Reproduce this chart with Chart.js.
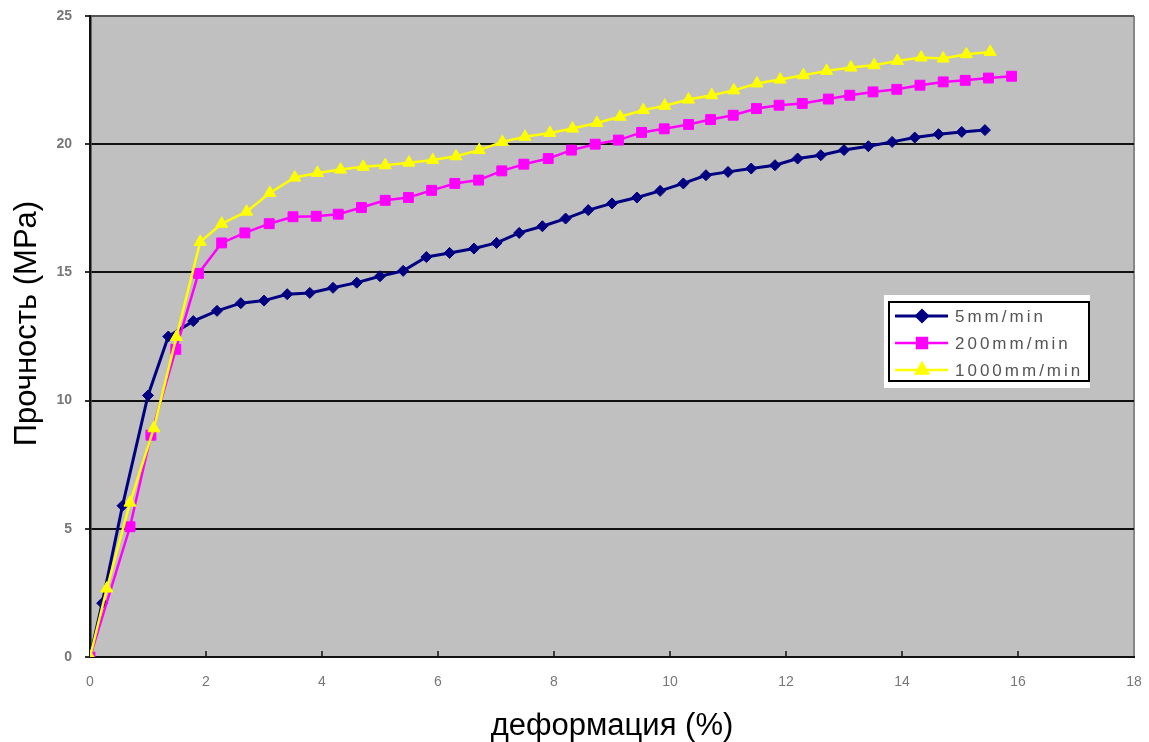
<!DOCTYPE html>
<html>
<head>
<meta charset="utf-8">
<script src="https://cdn.jsdelivr.net/npm/chart.js@4"></script>
<style>
  body { margin: 0; background: #fff; }
  #wrap { width: 1149px; height: 742px; position: relative; }
</style>
</head>
<body>
<div id="wrap"><canvas id="myChart"></canvas></div>
<script>
// deformation (%) / strength (MPa)
var x5 = [0, 0.21, 0.56, 1.0, 1.35, 1.78, 2.19, 2.6, 3.0, 3.4, 3.79, 4.19, 4.6, 5.0, 5.4, 5.8, 6.2, 6.62, 7.01, 7.4,
          7.8, 8.2, 8.59, 9.0, 9.43, 9.83, 10.23, 10.62, 11.0, 11.4, 11.81, 12.2, 12.6, 13.0, 13.42, 13.83, 14.22, 14.63, 15.03, 15.43];
var y5 = [0, 2.1, 5.9, 10.2, 12.5, 13.1, 13.5, 13.8, 13.9, 14.15, 14.2, 14.4, 14.6, 14.85, 15.06, 15.6, 15.76, 15.93, 16.15, 16.54,
          16.8, 17.1, 17.43, 17.69, 17.92, 18.18, 18.47, 18.79, 18.92, 19.05, 19.18, 19.44, 19.57, 19.77, 19.92, 20.09, 20.26, 20.39, 20.48, 20.55];

var x200 = [0, 0.69, 1.05, 1.48, 1.87, 2.27, 2.67, 3.09, 3.5, 3.9, 4.28, 4.68, 5.09, 5.49, 5.89, 6.29, 6.7, 7.1, 7.48, 7.9,
            8.3, 8.71, 9.11, 9.51, 9.9, 10.32, 10.7, 11.09, 11.49, 11.88, 12.28, 12.73, 13.1, 13.5, 13.91, 14.31, 14.71, 15.09, 15.49, 15.89];
var y200 = [0, 5.08, 8.65, 12.0, 14.96, 16.15, 16.54, 16.9, 17.17, 17.19, 17.27, 17.53, 17.81, 17.92, 18.2, 18.47, 18.6, 18.96, 19.22, 19.44,
            19.77, 20.0, 20.16, 20.46, 20.6, 20.77, 20.96, 21.13, 21.39, 21.52, 21.59, 21.76, 21.91, 22.04, 22.14, 22.3, 22.43, 22.49, 22.58, 22.65];

var x1000 = [0, 0.29, 0.69, 1.1, 1.49, 1.9, 2.27, 2.7, 3.1, 3.53, 3.92, 4.32, 4.71, 5.09, 5.5, 5.91, 6.31, 6.71, 7.11, 7.5,
             7.93, 8.32, 8.74, 9.14, 9.54, 9.91, 10.32, 10.72, 11.1, 11.5, 11.9, 12.3, 12.7, 13.12, 13.52, 13.92, 14.33, 14.71, 15.11, 15.52];
var y1000 = [0, 2.67, 6.02, 8.92, 12.48, 16.19, 16.9, 17.37, 18.1, 18.7, 18.88, 19.01, 19.12, 19.18, 19.28, 19.38, 19.53, 19.77, 20.09, 20.29,
             20.44, 20.61, 20.83, 21.07, 21.33, 21.5, 21.74, 21.91, 22.1, 22.37, 22.52, 22.69, 22.86, 22.99, 23.08, 23.25, 23.38, 23.34, 23.51, 23.6];

var seriesNames = ["5mm/min", "200mm/min", "1000mm/min"];
var xTicks = [0, 2, 4, 6, 8, 10, 12, 14, 16, 18];
var yTicks = [0, 5, 10, 15, 20, 25];

function pts(xs, ys) {
  return xs.map(function (v, i) { return {x: v, y: ys[i]}; });
}

var styles = [
  {color: "#000080", pointStyle: "rectRot", radius: 5.5, width: 3},
  {color: "#ff00ff", pointStyle: "rect", radius: 7, width: 2.5},
  {color: "#ffff00", pointStyle: "triangle", radius: 7, width: 2.5}
];

var plotStuff = {
  id: "plotStuff",
  beforeDraw: function (chart) {
    var a = chart.chartArea, ctx = chart.ctx;
    ctx.save();
    ctx.fillStyle = "#c0c0c0";
    ctx.fillRect(a.left, a.top, a.right - a.left, a.bottom - a.top);
    ctx.restore();
  },
  afterDatasetsDraw: function (chart) {
    var ctx = chart.ctx, xs = chart.scales.x, a = chart.chartArea;
    // little inner tick marks on the bottom axis
    ctx.save();
    ctx.strokeStyle = "#111";
    ctx.lineWidth = 1.5;
    xTicks.forEach(function (t) {
      if (t === 0 || t === 18) return;
      var px = xs.getPixelForValue(t);
      ctx.beginPath();
      ctx.moveTo(px, a.bottom);
      ctx.lineTo(px, a.bottom - 6);
      ctx.stroke();
    });

    // legend box
    var L = 884, T = 295;
    ctx.fillStyle = "#fff";
    ctx.fillRect(L, T, 206, 93);
    ctx.strokeStyle = "#000";
    ctx.lineWidth = 2;
    ctx.strokeRect(L + 5, T + 7, 200, 79);
    ctx.font = "17px 'Liberation Sans', Arial, sans-serif";
    ctx.textBaseline = "middle";
    try { ctx.letterSpacing = "3px"; } catch (e) {}
    seriesNames.forEach(function (name, i) {
      var s = styles[i];
      var y = T + 21 + i * 27;
      ctx.strokeStyle = s.color;
      ctx.fillStyle = s.color;
      ctx.lineWidth = s.width;
      ctx.beginPath();
      ctx.moveTo(L + 11, y);
      ctx.lineTo(L + 64, y);
      ctx.stroke();
      Chart.helpers.drawPoint(ctx, {pointStyle: s.pointStyle, radius: s.radius, rotation: 0, borderWidth: 1}, L + 38, y);
      ctx.fillStyle = "#555";
      ctx.fillText(name, L + 71, y + 1);
    });
    ctx.restore();
  }
};

var datasets = [pts(x5, y5), pts(x200, y200), pts(x1000, y1000)].map(function (d, i) {
  var s = styles[i];
  return {
    label: seriesNames[i],
    data: d,
    borderColor: s.color,
    backgroundColor: s.color,
    borderWidth: s.width,
    pointStyle: s.pointStyle,
    pointRadius: s.radius,
    pointBorderWidth: 1,
    pointBorderColor: s.color,
    pointBackgroundColor: s.color,
    fill: false,
    tension: 0,
    order: 3 - i
  };
});

new Chart("myChart", {
  type: "line",
  data: {datasets: datasets},
  plugins: [plotStuff],
  options: {
    responsive: true,
    maintainAspectRatio: false,
    animation: false,
    layout: {padding: {top: 16, right: 15, left: 0, bottom: 0}},
    plugins: {legend: {display: false}, tooltip: {enabled: false}},
    scales: {
      x: {
        type: "linear",
        min: 0, max: 18,
        afterFit: function (s) { s.height = 85; s.paddingLeft = 0; s.paddingRight = 0; },
        afterBuildTicks: function (s) { s.ticks = xTicks.map(function (v) { return {value: v}; }); },
        ticks: {color: "#777", padding: 17, font: {family: "'Liberation Sans', Arial", size: 14}},
        grid: {
          drawTicks: false,
          color: function (c) { return c.tick && c.tick.value === 18 ? "#888" : "rgba(0,0,0,0)"; },
          lineWidth: 2
        },
        border: {color: "#111", width: 2},
        title: {display: true, text: "деформация (%)", color: "#000",
                font: {family: "'Liberation Sans', Arial", size: 31, lineHeight: 1}, padding: {top: 0, bottom: 0}}
      },
      y: {
        min: 0, max: 25,
        afterFit: function (s) { s.width = 90; s.paddingTop = 0; s.paddingBottom = 0; },
        afterBuildTicks: function (s) { s.ticks = yTicks.map(function (v) { return {value: v}; }); },
        ticks: {color: "#777", padding: 13, font: {family: "'Liberation Sans', Arial", size: 14, weight: "bold"}},
        grid: {
          color: function (c) { return c.tick && c.tick.value === 25 ? "#555" : "#111"; },
          lineWidth: 2,
          tickLength: 5,
          tickColor: "#333"
        },
        border: {color: "#111", width: 2.5},
        title: {display: true, text: "   Прочность (MPa)", color: "#000",
                font: {family: "'Liberation Sans', Arial", size: 31, lineHeight: 1}, padding: {top: 12, bottom: 0}}
      }
    }
  }
});
</script>
</body>
</html>
